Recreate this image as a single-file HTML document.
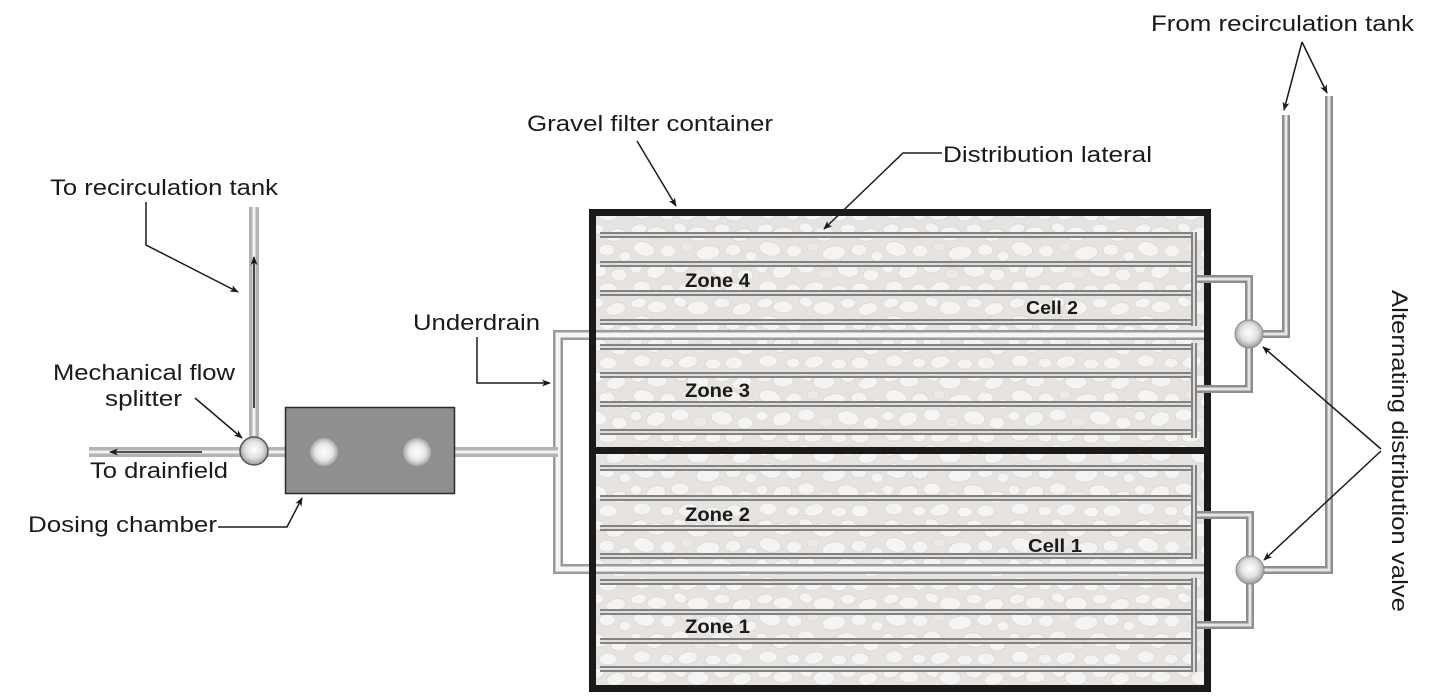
<!DOCTYPE html>
<html><head><meta charset="utf-8"><style>
html,body{margin:0;padding:0;background:#fff;}
svg{display:block;}
text{font-family:"Liberation Sans",Arial,sans-serif;fill:#1a1a1a;}
.b{font-weight:bold;}
</style></head><body>
<svg width="1430" height="696" viewBox="0 0 1430 696" xmlns="http://www.w3.org/2000/svg">
<defs>
<pattern id="grav" width="126" height="74" patternUnits="userSpaceOnUse">
<rect width="126" height="74" fill="#e6e3e0"/>
<g fill="#f5f4f2" stroke="#dcd7d2" stroke-width="0.8">
<ellipse cx="9" cy="7" rx="8" ry="5" transform="rotate(-10 9 7)"/>
<ellipse cx="27" cy="11" rx="10" ry="6"/>
<ellipse cx="50" cy="6" rx="7" ry="5" transform="rotate(20 50 6)"/>
<ellipse cx="68" cy="12" rx="11" ry="7"/>
<ellipse cx="92" cy="7" rx="8" ry="5"/>
<ellipse cx="112" cy="13" rx="10" ry="6" transform="rotate(-15 112 13)"/>
<ellipse cx="14" cy="27" rx="11" ry="7" transform="rotate(15 14 27)"/>
<ellipse cx="38" cy="29" rx="8" ry="6"/>
<ellipse cx="57" cy="25" rx="6" ry="4"/>
<ellipse cx="78" cy="31" rx="12" ry="7" transform="rotate(-8 78 31)"/>
<ellipse cx="103" cy="28" rx="8" ry="6"/>
<ellipse cx="121" cy="34" rx="6" ry="5"/>
<ellipse cx="6" cy="46" rx="6" ry="5"/>
<ellipse cx="26" cy="49" rx="10" ry="7" transform="rotate(-20 26 49)"/>
<ellipse cx="50" cy="45" rx="9" ry="6"/>
<ellipse cx="70" cy="52" rx="7" ry="5"/>
<ellipse cx="92" cy="48" rx="11" ry="7" transform="rotate(12 92 48)"/>
<ellipse cx="115" cy="53" rx="8" ry="6"/>
<ellipse cx="12" cy="65" rx="9" ry="6"/>
<ellipse cx="37" cy="67" rx="7" ry="5"/>
<ellipse cx="58" cy="66" rx="10" ry="6" transform="rotate(-12 58 66)"/>
<ellipse cx="83" cy="68" rx="8" ry="5"/>
<ellipse cx="104" cy="67" rx="9" ry="6"/>
</g>
<g fill="#e9dcd3" opacity="0.5">
<ellipse cx="57" cy="25" rx="5" ry="3"/>
<ellipse cx="70" cy="52" rx="6" ry="4"/>
</g>
</pattern>
<radialGradient id="ball" cx="50%" cy="45%" r="55%">
<stop offset="0" stop-color="#ffffff"/>
<stop offset="0.55" stop-color="#e2e2e2"/>
<stop offset="1" stop-color="#9a9a9a"/>
</radialGradient>
<radialGradient id="hole" cx="50%" cy="50%" r="50%">
<stop offset="0" stop-color="#ffffff"/>
<stop offset="0.6" stop-color="#e6e6e6"/>
<stop offset="1" stop-color="#a8a8a8"/>
</radialGradient>
<marker id="ar" viewBox="0 0 10 8" refX="9" refY="4" markerWidth="9" markerHeight="7" orient="auto" markerUnits="userSpaceOnUse">
<path d="M0,0 L10,4 L0,8 L2.5,4 z" fill="#1a1a1a"/>
</marker>
</defs>

<!-- Gravel container fill -->
<rect x="592" y="212" width="616" height="477" fill="url(#grav)"/>

<!-- Laterals -->
<g fill="none">
<g stroke="#838383" stroke-width="6">
<path d="M600 235H1194M600 264H1194M600 293H1194M600 322H1194M600 347H1194M600 375H1194M600 404H1194M600 432H1194M600 468H1194M600 498H1194M600 528H1194M600 556H1194M600 582H1194M600 612H1194M600 641H1194M600 669H1194"/>
<path d="M1194 232V326M1194 343V438M1194 465V559M1194 578V672"/>
</g>
<g stroke="#dedede" stroke-width="2">
<path d="M600 235H1191M600 264H1191M600 293H1191M600 322H1191M600 347H1191M600 375H1191M600 404H1191M600 432H1191M600 468H1191M600 498H1191M600 528H1191M600 556H1191M600 582H1191M600 612H1191M600 641H1191M600 669H1191"/>
<path d="M1194 232V326M1194 343V438M1194 465V559M1194 578V672"/>
</g>
</g>

<!-- Underdrain -->
<g fill="none" stroke-linejoin="miter">
<path d="M1204 335H558V569H1204" stroke="#9a9a9a" stroke-width="10"/>
<path d="M1204 335H558V569H1204" stroke="#f5f5f5" stroke-width="5"/>
</g>

<!-- Container border -->
<rect x="592.5" y="212.5" width="615" height="476" fill="none" stroke="#1a1a1a" stroke-width="7"/>
<line x1="589" y1="450.5" x2="1211" y2="450.5" stroke="#1a1a1a" stroke-width="7"/>

<!-- Right exit pipes -->
<g fill="none" stroke-linejoin="miter">
<g stroke="#8e8e8e" stroke-width="8">
<path d="M1197 279H1249V389H1197"/>
<path d="M1197 515H1250V625H1197"/>
<path d="M1249 334H1286V115"/>
<path d="M1250 570H1329V96"/>
</g>
<g stroke="#e6e6e6" stroke-width="3">
<path d="M1197 279H1249V389H1197"/>
<path d="M1197 515H1250V625H1197"/>
<path d="M1249 334H1286V115"/>
<path d="M1250 570H1329V96"/>
</g>
</g>
<circle cx="1249" cy="334" r="14" fill="url(#ball)" stroke="#8a8a8a" stroke-width="1"/>
<circle cx="1250" cy="570" r="14" fill="url(#ball)" stroke="#8a8a8a" stroke-width="1"/>

<!-- Left pipes -->
<g fill="none">
<path d="M254 207V450M89 452H558" stroke="#b4b4b4" stroke-width="10"/>
<path d="M254 207V450M89 452H558" stroke="#f2f2f2" stroke-width="3"/>
</g>
<!-- Dosing chamber -->
<rect x="285.5" y="407.5" width="169" height="86" fill="#8f8f8f" stroke="#2a2a2a" stroke-width="1.5"/>
<circle cx="324" cy="452" r="14" fill="url(#hole)"/>
<circle cx="417" cy="452" r="14" fill="url(#hole)"/>
<!-- Splitter -->
<circle cx="254" cy="451" r="14" fill="url(#ball)" stroke="#555" stroke-width="1.5"/>

<!-- Flow arrows inside pipes -->
<g stroke="#1a1a1a" stroke-width="1.6" fill="none" marker-end="url(#ar)">
<path d="M254 408V257"/>
<path d="M202 452H110"/>
</g>

<!-- Leaders -->
<g stroke="#1a1a1a" stroke-width="1.5" fill="none" marker-end="url(#ar)">
<path d="M637 141L676 206"/>
<path d="M942 153H903L824 229"/>
<path d="M146 202V245L238 292"/>
<path d="M195 398L242 438"/>
<path d="M218 527H287L302 498"/>
<path d="M477 337V383H550"/>
<path d="M1302 42L1284 110"/>
<path d="M1302 42L1327 93"/>
<path d="M1381 449L1263 347"/>
<path d="M1381 451L1264 560"/>
</g>

<!-- Labels -->
<g font-size="22">
<text x="1151" y="31" textLength="263" lengthAdjust="spacingAndGlyphs">From recirculation tank</text>
<text x="527" y="131" textLength="246" lengthAdjust="spacingAndGlyphs">Gravel filter container</text>
<text x="943" y="162" textLength="209" lengthAdjust="spacingAndGlyphs">Distribution lateral</text>
<text x="50" y="195" textLength="228" lengthAdjust="spacingAndGlyphs">To recirculation tank</text>
<text x="53" y="380" textLength="182" lengthAdjust="spacingAndGlyphs">Mechanical flow</text>
<text x="105" y="406" textLength="77" lengthAdjust="spacingAndGlyphs">splitter</text>
<text x="90" y="478" textLength="138" lengthAdjust="spacingAndGlyphs">To drainfield</text>
<text x="28" y="532" textLength="189" lengthAdjust="spacingAndGlyphs">Dosing chamber</text>
<text x="413" y="330" textLength="127" lengthAdjust="spacingAndGlyphs">Underdrain</text>
<text transform="translate(1392,290) rotate(90)" x="0" y="0" textLength="322" lengthAdjust="spacingAndGlyphs">Alternating distribution valve</text>
</g>
<g font-size="19" class="b">
<text class="b" x="685" y="287" textLength="65" lengthAdjust="spacingAndGlyphs">Zone 4</text>
<text class="b" x="685" y="397" textLength="65" lengthAdjust="spacingAndGlyphs">Zone 3</text>
<text class="b" x="685" y="521" textLength="65" lengthAdjust="spacingAndGlyphs">Zone 2</text>
<text class="b" x="685" y="633" textLength="65" lengthAdjust="spacingAndGlyphs">Zone 1</text>
<text class="b" x="1026" y="314" font-size="18" textLength="52" lengthAdjust="spacingAndGlyphs">Cell 2</text>
<text class="b" x="1028" y="552" font-size="18" textLength="54" lengthAdjust="spacingAndGlyphs">Cell 1</text>
</g>
</svg>
</body></html>
